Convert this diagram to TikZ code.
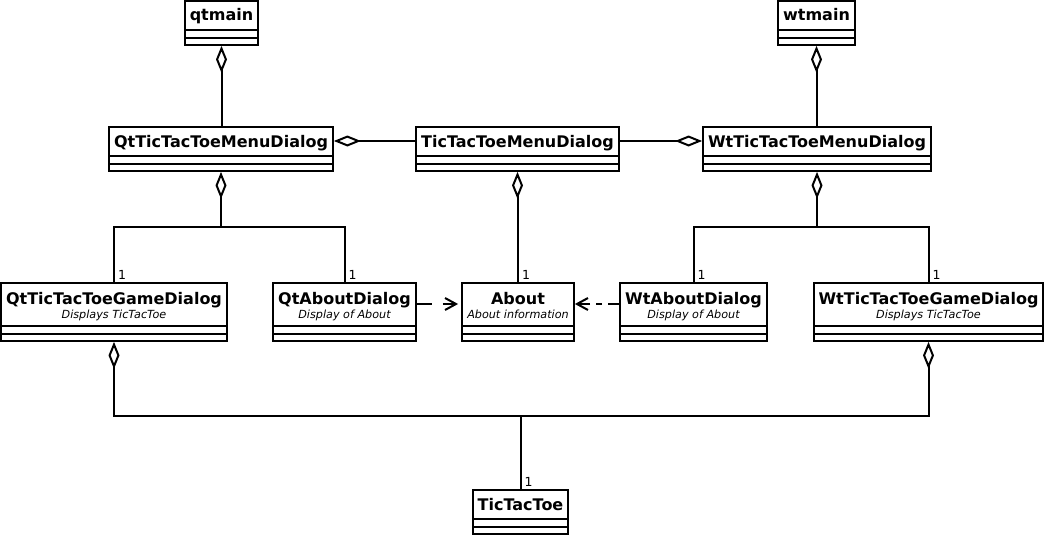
\documentclass[tikz,border=0pt]{standalone}
\usepackage{fontspec}
\setmainfont{DejaVu Sans}
\usetikzlibrary{arrows.meta}

\tikzset{
  box/.style={draw, line width=1.8pt, inner sep=0pt},
  ttl/.style={font=\bfseries\fontsize{16}{19}\selectfont, anchor=base, inner sep=0pt},
  sub/.style={font=\itshape\fontsize{11.2}{13}\selectfont, anchor=base, inner sep=0pt},
  mult/.style={font=\fontsize{12.5}{14}\selectfont, anchor=base west, inner sep=0pt},
  conn/.style={line width=2pt},
  agg/.style={conn, {Diamond[open,length=27pt,width=11pt]}-},
  dep/.style={conn, -{Straight Barb[length=11pt,width=12pt]}},
}

% class box without subtitle: name, x1, y1, x2, y2, title
\newcommand\umlcls[6]{%
  \node[box, minimum width={#4pt-#2pt}, minimum height={#5pt-#3pt}] (#1) at ({(#2+#4)/2},{(#3+#5)/2}) {};
  \draw[box] ([yshift=16pt]#1.south west) -- ([yshift=16pt]#1.south east);
  \draw[box] ([yshift=8pt]#1.south west) -- ([yshift=8pt]#1.south east);
  \node[ttl] (#1-t) at ({(#2+#4)/2},{#3+20}) {#6};
}
% class box with subtitle: name, x1, y1, x2, y2, title, subtitle
\newcommand\umlclss[7]{%
  \node[box, minimum width={#4pt-#2pt}, minimum height={#5pt-#3pt}] (#1) at ({(#2+#4)/2},{(#3+#5)/2}) {};
  \draw[box] ([yshift=16pt]#1.south west) -- ([yshift=16pt]#1.south east);
  \draw[box] ([yshift=8pt]#1.south west) -- ([yshift=8pt]#1.south east);
  \node[ttl] (#1-t) at ({(#2+#4)/2},{#3+21}) {#6};
  \node[sub] (#1-s) at ({(#2+#4)/2},{#3+35.5}) {#7};
}

\begin{document}
\begin{tikzpicture}[x=1pt,y=-1pt]
\useasboundingbox (0,0) rectangle (1044,535);

\umlcls{qtmain}{185}{1}{258}{45}{qtmain}
\umlcls{wtmain}{778}{1}{855}{45}{wtmain}
\umlcls{qtmenu}{109}{127}{333}{171}{QtTicTacToeMenuDialog}
\umlcls{tttmenu}{416}{127}{619}{171}{TicTacToeMenuDialog}
\umlcls{wtmenu}{703}{127}{931}{171}{WtTicTacToeMenuDialog}
\umlclss{qtgame}{1}{283}{227}{341}{QtTicTacToeGameDialog}{Displays TicTacToe}
\umlclss{qtabout}{273}{283}{416}{341}{QtAboutDialog}{Display of About}
\umlclss{about}{462}{283}{574}{341}{About}{About information}
\umlclss{wtabout}{620}{283}{767}{341}{WtAboutDialog}{Display of About}
\umlclss{wtgame}{814}{283}{1043}{341}{WtTicTacToeGameDialog}{Displays TicTacToe}
\umlcls{ttt}{473}{490}{568}{534}{TicTacToe}

% aggregations at the top
\draw[agg] (qtmain.south) -- (qtmain.south |- qtmenu.north);
\draw[agg] (wtmain.south) -- (wtmain.south |- wtmenu.north);
\draw[agg] ([yshift=8pt]qtmenu.east) -- ([yshift=8pt]tttmenu.west);
\draw[agg] ([yshift=8pt]wtmenu.west) -- ([yshift=8pt]tttmenu.east);

% Qt menu children
\coordinate (jq) at (221,227);
\draw[agg] (qtmenu.south) -- (jq);
\draw[conn] (jq) -| (qtgame.north);
\draw[conn] (jq) -| (qtabout.north);

% TicTacToeMenuDialog -> About
\draw[agg] (tttmenu.south) -- (tttmenu.south |- about.north);

% Wt menu children
\coordinate (jw) at (817,227);
\draw[agg] (wtmenu.south) -- (jw);
\draw[conn] (jw) -| (wtabout.north);
\draw[conn] (jw) -| (wtgame.north);

% game dialogs -> TicTacToe
\coordinate (jt) at (520.5,416);
\draw[agg] (qtgame.south) |- (jt);
\draw[agg] (wtgame.south) |- (jt);
\draw[conn] (jt) -- (ttt.north);

% dependencies
\draw[dep, dash pattern=on 15pt off 11pt, shorten >=3pt] ([yshift=8pt]qtabout.east) -- ([yshift=8pt]about.west);
\draw[dep, dash pattern=on 11pt off 6pt on 6pt off 6pt] ([yshift=8pt]wtabout.west) -- ([yshift=8pt]about.east);

% multiplicities
\node[mult] (m1) at ([xshift=4pt,yshift=3pt]qtgame.north) {1};
\node[mult] (m2) at ([xshift=4pt,yshift=3pt]qtabout.north) {1};
\node[mult] (m3) at ([xshift=4pt,yshift=3pt]about.north) {1};
\node[mult] (m4) at ([xshift=4pt,yshift=3pt]wtabout.north) {1};
\node[mult] (m5) at ([xshift=4pt,yshift=3pt]wtgame.north) {1};
\node[mult] (m6) at ([xshift=4pt,yshift=3pt]ttt.north) {1};
\end{tikzpicture}
\end{document}
